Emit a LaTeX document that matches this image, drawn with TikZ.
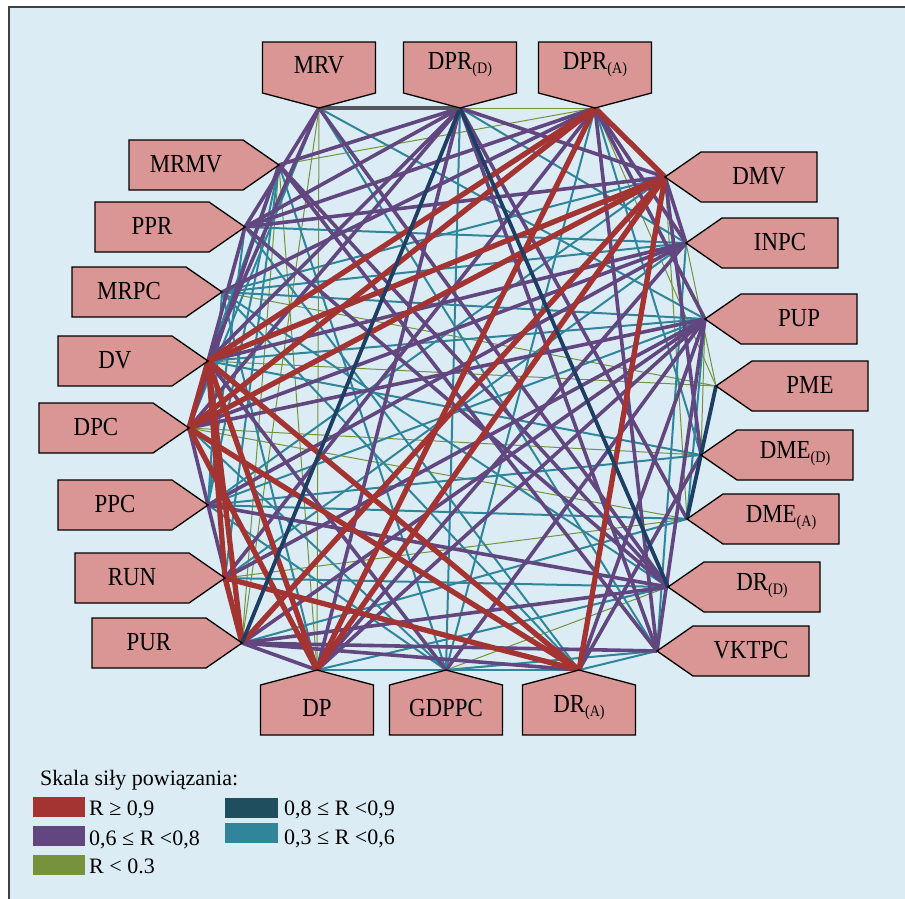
\documentclass[tikz,border=0pt]{standalone}
\usepackage{fontspec}
\setmainfont{Liberation Serif}
\newfontfamily\labfont[FakeStretch=0.88]{Liberation Serif}
\definecolor{cBg}{RGB}{219,236,244}
\definecolor{cTag}{RGB}{217,150,148}
\definecolor{cRed}{RGB}{163,52,50}
\definecolor{cNavy}{RGB}{30,62,100}
\definecolor{cDark}{RGB}{31,78,95}
\definecolor{cPur}{RGB}{98,70,128}
\definecolor{cTeal}{RGB}{49,133,155}
\definecolor{cGreen}{RGB}{118,146,60}
\definecolor{cGray}{RGB}{85,85,95}
\newcommand\lsub[1]{\raisebox{-4bp}{\fontsize{16bp}{16bp}\selectfont #1}}
\newcommand\ltag[2]{\draw[tagbox] (#1) -- ++(-36,-25) -- ++(-114,0) -- ++(0,50) -- ++(114,0) -- cycle; \path (#1) ++(-93,-1) node[taglabel] (#1-t) {#2};}
\newcommand\rtag[2]{\draw[tagbox] (#1) -- ++(36,-25) -- ++(116,0) -- ++(0,50) -- ++(-116,0) -- cycle; \path (#1) ++(94,-1) node[taglabel] (#1-t) {#2};}
\newcommand\ttag[2]{\draw[tagbox] (#1) -- ++(-56.5,-15) -- ++(0,-51) -- ++(113,0) -- ++(0,51) -- cycle; \path (#1) ++(0,-43) node[taglabel] (#1-t) {#2};}
\newcommand\btag[2]{\draw[tagbox] (#1) -- ++(-56.5,15) -- ++(0,50) -- ++(113,0) -- ++(0,-50) -- cycle; \path (#1) ++(0,38) node[taglabel] (#1-t) {#2};}
\tikzset{
  tagbox/.style={draw=black, line width=1.3bp, fill=cTag, line join=miter},
  taglabel/.style={font=\labfont\fontsize{26bp}{26bp}\selectfont, inner sep=0pt},
  legtext/.style={font=\fontsize{22bp}{22bp}\selectfont, inner sep=0pt, anchor=base west},
  eRed/.style={draw=cRed, line width=5.3bp},
  eNavy/.style={draw=cNavy, line width=3.8bp},
  eGray/.style={draw=cGray, line width=3.8bp},
  ePur/.style={draw=cPur, line width=3.6bp},
  eTeal/.style={draw=cTeal, line width=2bp},
  eGreen/.style={draw=cGreen, line width=1bp},
}
\begin{document}
\begin{tikzpicture}[x=1bp,y=-1bp]
\useasboundingbox (0,0) rectangle (905,899);
\fill[white] (0,0) rectangle (905,899);
\fill[cBg] (9,7) rectangle (905,899);
\draw[line width=1.2bp, black!75] (9,899) -- (9,7) -- (905,7);
% tips
\coordinate (MRV) at (319,108);
\coordinate (DPRD) at (460,108);
\coordinate (DPRA) at (595,108);
\coordinate (DMV) at (665,177);
\coordinate (INPC) at (686,243);
\coordinate (PUP) at (705,319);
\coordinate (PME) at (716,386);
\coordinate (DMED) at (701,455);
\coordinate (DMEA) at (687,519);
\coordinate (DRD) at (668,587);
\coordinate (VKTPC) at (657,651);
\coordinate (DRA) at (579,670);
\coordinate (GDPPC) at (446,670);
\coordinate (DP) at (317,670);
\coordinate (PUR) at (242,643);
\coordinate (RUN) at (225,578);
\coordinate (PPC) at (208,505);
\coordinate (DPC) at (189,428);
\coordinate (DV) at (208,361);
\coordinate (MRPC) at (222,292);
\coordinate (PPR) at (245,227);
\coordinate (MRMV) at (279,165);
% edges
\foreach \a/\b in {MRV/DP, DPRD/DPRA, DPRA/MRMV, DPRA/PME, DMV/DMEA, MRPC/PME, DPC/DMED, DPC/DMEA, RUN/DMEA, MRMV/DP, MRV/PUR, GDPPC/DRD, DP/DRD, GDPPC/VKTPC, MRMV/PUR, INPC/PME, PUP/DMED, DV/PME}
  \draw[eGreen] (\a) -- (\b);
\foreach \a/\b in {MRV/PUP, MRV/VKTPC, DPRD/INPC, DPRD/GDPPC, DPRA/GDPPC, DPRA/DMED, DMV/MRPC, DMV/PPC, INPC/PPR, INPC/MRPC, INPC/RUN, INPC/VKTPC, PUP/DV, PUP/PPC, PUP/MRPC, DMED/PPC, DMED/DV, DMEA/PUR, DMEA/PPC, DRD/RUN, DRD/MRPC, DRD/DP, VKTPC/GDPPC, VKTPC/DRA, DRA/MRPC, DRA/DP, GDPPC/PPC, GDPPC/MRMV, GDPPC/DPC, MRMV/DV, MRMV/RUN, MRMV/PPC, MRPC/PPC, PPC/PUR, PPR/DRA, PPR/PPC, MRV/DPC, DP/MRPC, PUP/DMEA}
  \draw[eTeal] (\a) -- (\b);
\foreach \a/\b in {MRV/PPR, MRV/DV, MRV/DRD, DPRD/MRMV, DPRD/DMV, DPRD/PPR, DPRD/DV, DPRD/DPC, DPRD/DP, DPRD/DMEA, DPRD/VKTPC, DPRA/PPR, DPRA/PUP, DPRA/VKTPC, DPRA/MRPC, DPRA/RUN, DPRA/INPC, DMV/PPR, DMV/INPC, DMV/DMED, INPC/DV, INPC/DPC, INPC/PPC, INPC/DP, PUP/RUN, PUP/PUR, PUP/DP, PUP/GDPPC, PUP/DRA, PUP/VKTPC, PUP/DPC, DRD/PPR, DRD/PPC, DRD/MRMV, DRD/PUR, VKTPC/PUR, DRA/PUR, DRA/DMED, PUR/DP, DPC/PUR, PPR/DV, MRMV/DPC, GDPPC/DV, MRMV/VKTPC}
  \draw[ePur] (\a) -- (\b);
\foreach \a/\b in {DPRA/DMV, DPRA/DV, DPRA/DPC, DPRA/DP, DMV/DV, DMV/DPC, DMV/DP, DMV/PUR, DMV/DRA, DV/DRA, DV/PUR, DV/DP, DV/RUN, DPC/DRA, DPC/DP, RUN/DRA, RUN/PUR, DPC/DV}
  \draw[eRed] (\a) -- (\b);
\foreach \a/\b in {DPRD/PUR, DPRD/DRD, PME/DMEA}
  \draw[eNavy] (\a) -- (\b);
\draw[eGray] (MRV) -- (DPRD);
% tags
\ttag{MRV}{MRV}
\ttag{DPRD}{DPR\lsub{(D)}}
\ttag{DPRA}{DPR\lsub{(A)}}
\rtag{DMV}{DMV}
\rtag{INPC}{INPC}
\rtag{PUP}{PUP}
\rtag{PME}{PME}
\rtag{DMED}{DME\lsub{(D)}}
\rtag{DMEA}{DME\lsub{(A)}}
\rtag{DRD}{DR\lsub{(D)}}
\rtag{VKTPC}{VKTPC}
\btag{DRA}{DR\lsub{(A)}}
\btag{GDPPC}{GDPPC}
\btag{DP}{DP}
\ltag{PUR}{PUR}
\ltag{RUN}{RUN}
\ltag{PPC}{PPC}
\ltag{DPC}{DPC}
\ltag{DV}{DV}
\ltag{MRPC}{MRPC}
\ltag{PPR}{PPR}
\ltag{MRMV}{MRMV}
% legend
\node[legtext] (leg) at (40,785) {Skala siły powiązania:};
\fill[cRed] (33,797) rectangle (85,817);
\node[legtext] (l1) at (89,815) {R ≥ 0,9};
\fill[cDark] (225,798) rectangle (278,818);
\node[legtext] (l2) at (284,815) {0,8 ≤ R <0,9};
\fill[cPur] (33,826) rectangle (85,846);
\node[legtext] (l3) at (89,845) {0,6 ≤ R <0,8};
\fill[cTeal] (225,823) rectangle (278,843);
\node[legtext] (l4) at (284,844) {0,3 ≤ R <0,6};
\fill[cGreen] (33,855) rectangle (85,875);
\node[legtext] (l5) at (89,873) {R < 0.3};
\end{tikzpicture}
\end{document}
